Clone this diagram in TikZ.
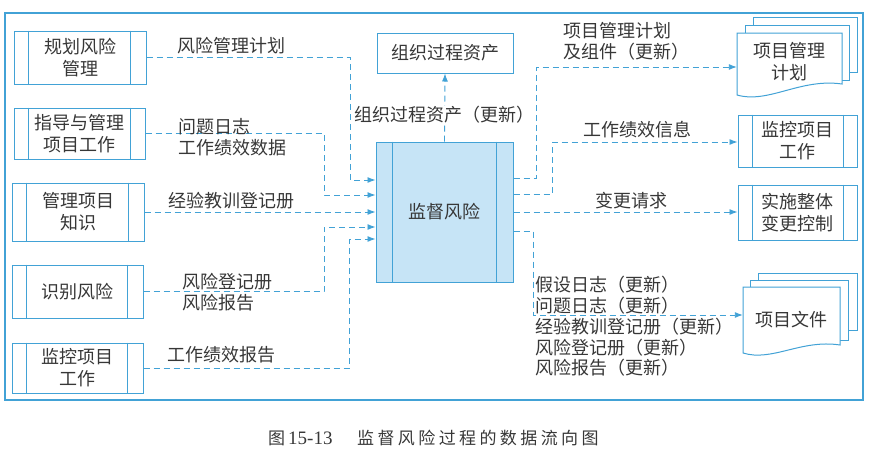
\documentclass[tikz,border=0pt]{standalone}
\usepackage{fontspec}
\setmainfont{Noto Sans CJK SC}
\newfontfamily\capfont[LetterSpace=20]{Noto Sans CJK SC}
\newfontfamily\latfont{Liberation Serif}
\usetikzlibrary{arrows.meta}
\definecolor{lineblue}{RGB}{66,162,214}
\definecolor{fillblue}{RGB}{198,228,246}
\definecolor{txt}{RGB}{55,55,55}
\newcommand\procbox[8]{%
  \node[proc, minimum width={#4-#2}, minimum height={#5-#3}] (#1) at ({(#2+#4)/2},{(#3+#5)/2}) {#8};
  \draw[boxline] ([xshift=#6]#1.north west) -- ([xshift=#6]#1.south west);
  \draw[boxline] ([xshift=-#7]#1.north east) -- ([xshift=-#7]#1.south east);
}
\newcommand\docfront[5]{%
  \filldraw[boxline, fill=white] (#1,#2) -- (#1,#4) .. controls ({#1+0.3*(#3-#1)},{#4+9}) and ({#1+0.6*(#3-#1)},{#5-6}) .. (#3,#5) -- (#3,#2) -- cycle;
}
\begin{document}
\begin{tikzpicture}[x=1pt,y=-1pt,
  every node/.style={text=txt, font=\fontsize{18}{22}\selectfont},
  boxline/.style={draw=lineblue, line width=1pt},
  proc/.style={draw=lineblue, line width=1pt, inner sep=0pt, align=center},
  lbl/.style={anchor=west, inner sep=0pt, align=left, font=\fontsize{18}{21}\selectfont},
  flow/.style={draw=lineblue, line width=0.9pt, dash pattern=on 6pt off 4pt,
    -{Latex[length=8pt,width=6pt]}},
]
\useasboundingbox (0,0) rectangle (870,450);
% outer frame
\draw[draw=lineblue, line width=1.2pt] (5,13) rectangle (863,400);

% left process boxes
\procbox{p1}{14}{31}{146}{84}{15}{16}{规划风险\\管理}
\procbox{p2}{14}{108}{145}{159}{15}{15}{指导与管理\\项目工作}
\procbox{p3}{12}{183}{144}{241}{15}{16}{管理项目\\知识}
\procbox{p4}{12}{265}{143}{318}{15}{16}{识别风险}
\procbox{p5}{12}{343}{143}{393}{15}{16}{监控项目\\工作}

% right process boxes
\procbox{m2}{738}{115}{857}{167}{15}{14}{监控项目\\工作}
\procbox{chg}{738}{185}{857}{240}{15}{14}{实施整体\\变更控制}

% center box
\node[draw=lineblue, fill=fillblue, line width=1pt, minimum width=137, minimum height=140, inner sep=0] (c) at (444.5,212) {监督风险};
\draw[boxline] ([xshift=17]c.north west) -- ([xshift=17]c.south west);
\draw[boxline] ([xshift=-17]c.north east) -- ([xshift=-17]c.south east);

% top box
\node[draw=lineblue, line width=1pt, minimum width=136, minimum height=40, inner sep=0] (org) at (445,53) {组织过程资产};

% document stacks
\filldraw[boxline, fill=white] (753,17) rectangle (857,72);
\filldraw[boxline, fill=white] (745,25) rectangle (849,80);
\docfront{737}{33}{842}{95}{84}
\node[inner sep=0, minimum width=105, minimum height=60, align=center] (pmp) at (789.5,62) {项目管理\\计划};

\filldraw[boxline, fill=white] (758,273) rectangle (857,330);
\filldraw[boxline, fill=white] (750,280) rectangle (848,340);
\docfront{743}{287}{840}{353}{345}
\node[inner sep=0, minimum width=97, minimum height=60, align=center] (docs) at (791.5,320) {项目文件};

% input flows
\draw[flow] (p1.east) -| (350,180) -- (c.west |- 350,180);
\draw[flow] (p2.east) -| (324,195) -- (c.west |- 324,195);
\draw[flow] (p3.east) -- (c.west |- p3.east);
\draw[flow] (p4.east) -| (324,227) -- (c.west |- 324,227);
\draw[flow] (p5.east) -| (349,239) -- (c.west |- 349,239);

% up flow + label
\draw[flow] (c.north) -- (org.south);
\node[fill=white, inner sep=0pt] (lorg) at (444,115) {组织过程资产（更新）};

% output flows
\draw[flow] (c.east |- 0,178) -| (536,67) -- (pmp.west |- 0,67);
\draw[flow] (c.east |- 0,194) -| (552,142) -- (m2.west |- 0,142);
\draw[flow] (c.east |- 0,212) -- (chg.west |- 0,212);
\draw[flow] (c.east |- 0,231) -| (533,315) -- (docs.west |- 0,315);

% labels left
\node[lbl] (l1) at (177,46) {风险管理计划};
\node[lbl] (l2) at (178,137.5) {问题日志\\工作绩效数据};
\node[lbl] (l3) at (168,201) {经验教训登记册};
\node[lbl] (l4) at (182,292.5) {风险登记册\\风险报告};
\node[lbl] (l5) at (167,355) {工作绩效报告};

% labels right
\node[lbl] (r1) at (563,41.5) {项目管理计划\\及组件（更新）};
\node[lbl] (r2) at (583,130) {工作绩效信息};
\node[lbl] (r3) at (595,201) {变更请求};
\node[lbl, font=\fontsize{18}{20.75}\selectfont] (r4) at (535,326.5) {假设日志（更新）\\问题日志（更新）\\经验教训登记册（更新）\\风险登记册（更新）\\风险报告（更新）};

% caption
\node[anchor=west, inner sep=0, font=\fontsize{17}{20}\selectfont] (cap1) at (268,438) {图};
\node[anchor=west, inner sep=0, font=\latfont\fontsize{19}{20}\selectfont] (cap2) at (288,438) {15-13};
\node[anchor=west, inner sep=0, font=\fontsize{17}{20}\selectfont] (cap3) at (357,438) {\capfont 监督风险过程的数据流向图};
\end{tikzpicture}
\end{document}
